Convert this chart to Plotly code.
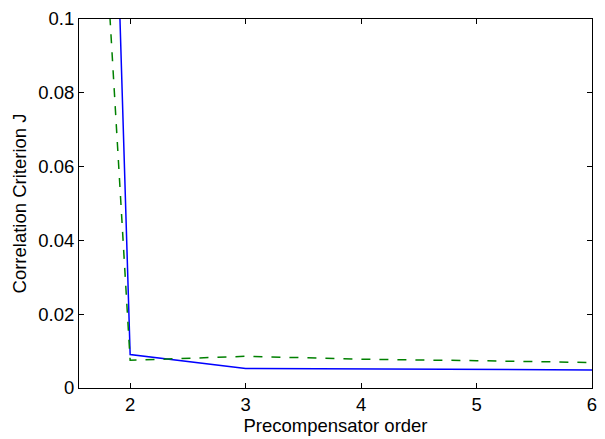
import plotly.graph_objects as go

orders = [1, 2, 3, 4, 5, 6]
blue_J = [1.04, 0.00905, 0.0053, 0.0051, 0.0050, 0.0049]
green_J = [0.539, 0.0075, 0.0086, 0.0078, 0.0074, 0.0069]

x_ticks = [2, 3, 4, 5, 6]
y_ticks = [0, 0.02, 0.04, 0.06, 0.08, 0.1]
y_ticktext = ["0", "0.02", "0.04", "0.06", "0.08", "0.1"]

fig = go.Figure()
fig.add_trace(go.Scatter(x=orders, y=blue_J, mode="lines",
                         line=dict(color="rgb(0,0,255)", width=1.5), showlegend=False))
fig.add_trace(go.Scatter(x=orders, y=green_J, mode="lines",
                         line=dict(color="rgb(0,128,0)", width=1.5, dash="dash"), showlegend=False))

font = dict(family="Liberation Sans, Arial, sans-serif", size=18.5, color="black")
fig.update_layout(
    width=605, height=439,
    margin=dict(l=79, r=8, t=14, b=46),
    paper_bgcolor="white", plot_bgcolor="white",
    font=font,
)
fig.update_xaxes(range=[1.557, 6], tickvals=x_ticks, ticks="inside", ticklen=5,
                 tickcolor="black", showline=True, linecolor="black", linewidth=1,
                 mirror="ticks", showgrid=False, zeroline=False,
                 title=dict(text="Precompensator order", standoff=3, font=font),
                 tickfont=font)
fig.update_yaxes(range=[0, 0.1], tickvals=y_ticks, ticktext=y_ticktext, ticks="inside",
                 ticklen=5, tickcolor="black", showline=True, linecolor="black", linewidth=1,
                 mirror="ticks", showgrid=False, zeroline=False,
                 title=dict(text="Correlation Criterion J", standoff=6, font=font),
                 tickfont=font)
fig.write_html("out.html")
